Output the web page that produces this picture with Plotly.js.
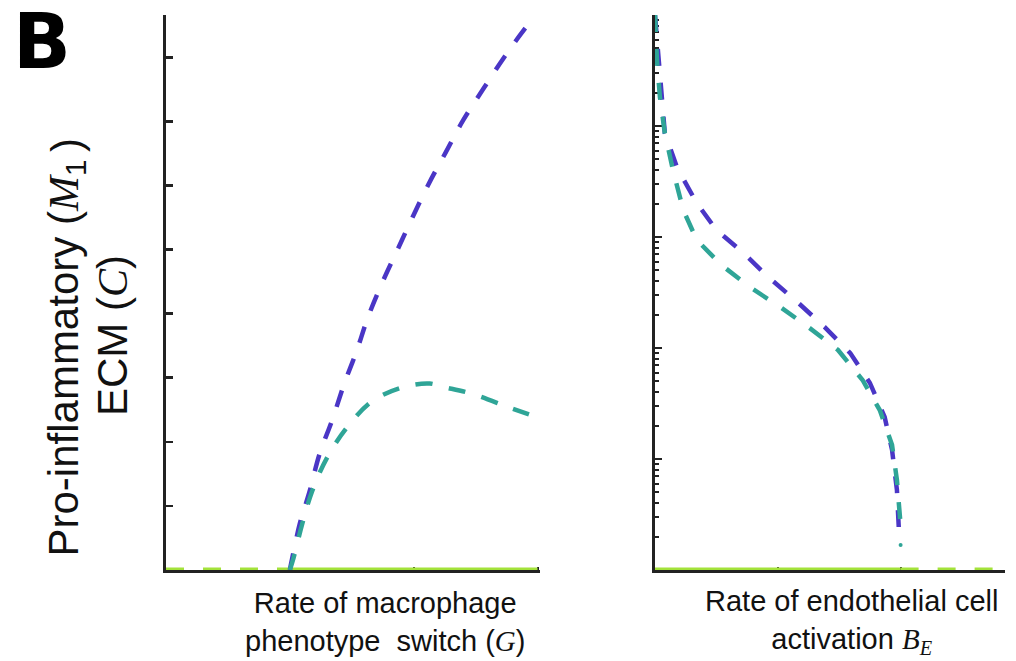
<!DOCTYPE html>
<html><head><meta charset="utf-8">
<script src="https://cdn.plot.ly/plotly-3.0.1.min.js"></script>
<style>html,body{margin:0;padding:0;background:#fff}#plot{width:1016px;height:661px}</style>
</head><body><div id="plot"></div>
<script>
// Left panel: rate of macrophage phenotype switch (G)
const leftM1X = [1.0, 1.02, 1.08, 1.16, 1.24, 1.34, 1.44, 1.54, 1.63, 1.75, 1.87, 1.99, 2.12, 2.26, 2.40, 2.56, 2.72, 2.90, 2.97];
const leftM1Y = [0, 0.19, 0.72, 1.23, 1.81, 2.33, 2.91, 3.42, 3.94, 4.50, 5.00, 5.50, 6.02, 6.52, 7.02, 7.50, 7.97, 8.45, 8.61];
const leftCX = [1.0, 1.03, 1.10, 1.18, 1.30, 1.46, 1.67, 1.93, 2.13, 2.23, 2.47, 2.78, 3.0];
const leftCY = [0, 0.19, 0.72, 1.23, 1.75, 2.22, 2.64, 2.86, 2.91, 2.86, 2.75, 2.53, 2.38];
const leftZeroDashX = [0, 1.0];
const leftZeroSolidX = [1.0, 3.0];
const leftYTicks = [1, 2, 3, 4, 5, 6, 7, 8];
const leftXTicks = [1, 2, 3];

// Right panel: rate of endothelial cell activation B_E (log y)
const rightM1X = [0, 0.08, 0.18, 0.31, 0.34, 0.50, 0.72, 0.93, 1.16, 1.38, 1.59, 1.75, 1.87, 1.93, 1.97, 1.99];
const rightM1Y = [10, 0.865, 0.42, 0.229, 0.202, 0.1156, 0.0718, 0.0428, 0.0259, 0.0155, 0.0090, 0.00484, 0.00239, 0.00121, 0.000526, 0.000186];
const rightCX = [0, 0.016, 0.04, 0.08, 0.146, 0.23, 0.34, 0.54, 0.77, 1.02, 1.26, 1.49, 1.69, 1.83, 1.93, 1.97, 2.0];
const rightCY = [10, 3.93, 1.82, 0.865, 0.402, 0.175, 0.094, 0.056, 0.0355, 0.0234, 0.0151, 0.0096, 0.00515, 0.00276, 0.00134, 0.000646, 0.000254];
const rightCDotX = [2.0];
const rightCDotY = [0.000168];
const rightZeroSolidX = [0, 2.0];
const rightZeroDashX = [2.0, 2.85];
const rightFloor = 1e-4;
const rightYTicks = [1e-4, 1e-3, 1e-2, 1e-1, 1, 10];
const rightXTicks = [1, 2];

const PURPLE = '#4a36c6';
const TEAL = '#2fa597';
const GREEN = '#a3e23a';

const minorVals = [];
for (let e = -4; e < 1; e++) for (let k = 2; k <= 9; k++) minorVals.push(k * Math.pow(10, e));

const dashL = '17px,17px';
const traces = [
  {x: leftZeroDashX, y: leftZeroDashX.map(() => 0), xaxis: 'x', yaxis: 'y', mode: 'lines', cliponaxis: false,
   line: {color: GREEN, width: 5, dash: '18px,19px'}},
  {x: leftZeroSolidX, y: leftZeroSolidX.map(() => 0), xaxis: 'x', yaxis: 'y', mode: 'lines', cliponaxis: false,
   line: {color: GREEN, width: 5}},
  {x: leftM1X, y: leftM1Y, xaxis: 'x', yaxis: 'y', mode: 'lines', line: {color: PURPLE, width: 4.5, dash: dashL, shape: 'spline'}},
  {x: leftCX, y: leftCY, xaxis: 'x', yaxis: 'y', mode: 'lines', line: {color: TEAL, width: 4.5, dash: dashL, shape: 'spline'}},

  {x: rightZeroSolidX, y: rightZeroSolidX.map(() => rightFloor), xaxis: 'x2', yaxis: 'y2', mode: 'lines', cliponaxis: false,
   line: {color: GREEN, width: 5}},
  {x: rightZeroDashX, y: rightZeroDashX.map(() => rightFloor), xaxis: 'x2', yaxis: 'y2', mode: 'lines', cliponaxis: false,
   line: {color: GREEN, width: 5, dash: '18px,19px'}},
  {x: rightM1X, y: rightM1Y, xaxis: 'x2', yaxis: 'y2', mode: 'lines', line: {color: PURPLE, width: 4.5, dash: dashL}},
  {x: rightCX, y: rightCY, xaxis: 'x2', yaxis: 'y2', mode: 'lines', line: {color: TEAL, width: 4.5, dash: dashL}},
  {x: rightCDotX, y: rightCDotY, xaxis: 'x2', yaxis: 'y2', mode: 'markers', marker: {color: TEAL, size: 4}}
];

const W = 1016, H = 661;
const ax = {showline: true, linecolor: '#222', linewidth: 3, mirror: false, showgrid: false, zeroline: false,
            ticks: 'inside', tickcolor: '#222', showticklabels: false, layer: 'below traces', fixedrange: true};
const yDomain = [1 - 570 / H, 1 - 15 / H];
const SERIF = "<span style=\"font-family:'Liberation Serif', 'DejaVu Serif', serif\">";
const SANS = 'Liberation Sans, Arial, sans-serif';
const YL = 42;

const layout = {
  width: W, height: H, margin: {l: 0, r: 0, t: 0, b: 0},
  paper_bgcolor: '#fff', plot_bgcolor: '#fff', showlegend: false,
  font: {family: SANS, color: '#111'},
  xaxis: Object.assign({}, ax, {domain: [166 / W, 540 / W], range: [0, 3.02], tickmode: 'array', tickvals: leftXTicks, ticklen: 3, tickwidth: 2, anchor: 'y'}),
  yaxis: Object.assign({}, ax, {domain: yDomain, range: [0, 8.66], tickmode: 'array', tickvals: leftYTicks, ticklen: 7, tickwidth: 2.5, anchor: 'x'}),
  xaxis2: Object.assign({}, ax, {domain: [655 / W, 1005 / W], range: [0, 2.85], tickmode: 'array', tickvals: rightXTicks, ticklen: 3, tickwidth: 2, anchor: 'y2'}),
  yaxis2: Object.assign({}, ax, {domain: yDomain, type: 'log', range: [-4, 1], tickmode: 'array', tickvals: rightYTicks, ticklen: 7, tickwidth: 2.5, anchor: 'x2',
    minor: {tickmode: 'array', tickvals: minorVals, ticks: 'inside', ticklen: 4, tickwidth: 2, tickcolor: '#222', showgrid: false}}),
  annotations: [
    {text: '<b>B</b>', xref: 'paper', yref: 'paper', x: 42 / W, y: 1 - 41 / H, xanchor: 'center', yanchor: 'middle', showarrow: false,
     borderpad: 0, font: {size: 76, family: 'DejaVu Sans, sans-serif', color: '#000'}},
    {text: 'Pro-inflammatory (' + SERIF + '<i>M</i></span><sub>1</sub>', xref: 'paper', yref: 'paper', x: 66 / W, y: 1 - 159 / H,
     xanchor: 'center', yanchor: 'top', showarrow: false, textangle: -90, borderpad: 0,
     font: {size: YL, family: SANS, color: '#111'}},
    {text: ')', xref: 'paper', yref: 'paper', x: 66 / W, y: 1 - 153 / H,
     xanchor: 'center', yanchor: 'bottom', showarrow: false, textangle: -90, borderpad: 0,
     font: {size: YL, family: SANS, color: '#111'}},
    {text: 'ECM (' + SERIF + '<i>C</i></span>)', xref: 'paper', yref: 'paper', x: 112 / W, y: 1 - 336 / H,
     xanchor: 'center', yanchor: 'middle', showarrow: false, textangle: -90,
     font: {size: YL, family: SANS, color: '#111'}},
    {text: 'Rate of macrophage<br>phenotype  switch (' + SERIF + '<i>G</i></span>)', xref: 'paper', yref: 'paper', x: 385 / W, y: 1 - 622 / H,
     xanchor: 'center', yanchor: 'middle', showarrow: false,
     font: {size: 29, family: SANS, color: '#111'}},
    {text: 'Rate of endothelial cell<br>activation ' + SERIF + '<i>B</i><sub><i>E</i></sub></span>', xref: 'paper', yref: 'paper', x: 851 / W, y: 1 - 622 / H,
     xanchor: 'center', yanchor: 'middle', showarrow: false,
     font: {size: 29, family: SANS, color: '#111'}}
  ]
};

Plotly.newPlot('plot', traces, layout, {displayModeBar: false, staticPlot: true});
</script></body></html>
